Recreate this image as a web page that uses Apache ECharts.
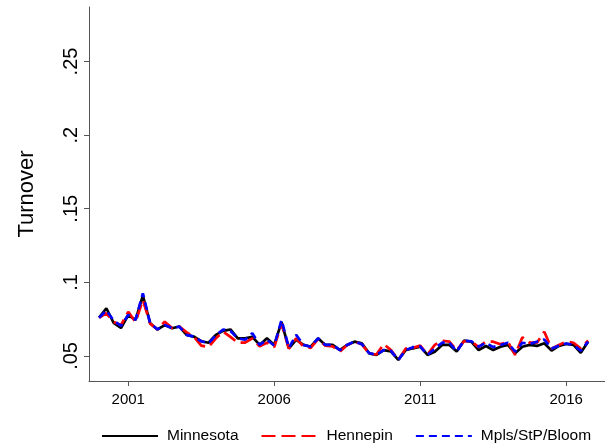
<!DOCTYPE html>
<html>
<head>
<meta charset="utf-8">
<script src="https://cdn.jsdelivr.net/npm/echarts@6/dist/echarts.min.js"></script>
<style>
html,body{margin:0;padding:0;background:#fff;}
#chart{width:605px;height:447px;}
</style>
</head>
<body>
<div id="chart"></div>
<script>
// Quarterly data, 2000q1 .. 2016q4
const startYear = 2000;
const nQuarters = 68;
const xTickYears = [2001, 2006, 2011, 2016];
const yTickValues = [0.05, 0.1, 0.15, 0.2, 0.25];
const seriesNames = ["Minnesota", "Hennepin", "Mpls/StP/Bloom"];

const minnesota = [
  0.076, 0.0824, 0.0724, 0.069, 0.0778, 0.0745, 0.091, 0.0722,
  0.068, 0.071, 0.0688, 0.070, 0.0643, 0.0631, 0.0600, 0.059,
  0.0643, 0.067, 0.068, 0.062, 0.062, 0.063, 0.0575, 0.062,
  0.0575, 0.073, 0.0552, 0.061, 0.0575, 0.0563, 0.062, 0.0575,
  0.0575, 0.054, 0.0575, 0.0597, 0.0586, 0.0518, 0.0507, 0.054,
  0.053, 0.0473, 0.054, 0.0552, 0.0563, 0.0507, 0.0529, 0.0575,
  0.0575, 0.053, 0.0604, 0.0597, 0.054, 0.0568, 0.054, 0.0563,
  0.0575, 0.0518, 0.0563, 0.0575, 0.0568, 0.0586, 0.0536, 0.0568,
  0.0582, 0.0575, 0.0522, 0.0597
];
const hennepin = [
  0.076, 0.079, 0.073, 0.071, 0.080, 0.073, 0.088, 0.072,
  0.068, 0.0733, 0.069, 0.070, 0.066, 0.063, 0.057, 0.056,
  0.062, 0.0665, 0.063, 0.059, 0.059, 0.062, 0.0565, 0.059,
  0.056, 0.072, 0.055, 0.062, 0.0565, 0.0555, 0.0615, 0.057,
  0.0565, 0.053, 0.0575, 0.0597, 0.058, 0.0515, 0.051, 0.058,
  0.054, 0.0473, 0.055, 0.0555, 0.057, 0.051, 0.0575, 0.0604,
  0.0597, 0.054, 0.060, 0.060, 0.056, 0.0597, 0.0597, 0.058,
  0.0597, 0.0507, 0.0627, 0.059, 0.059, 0.0665, 0.055, 0.0575,
  0.0597, 0.059, 0.055, 0.0605
];
const mplsStpBloom = [
  0.076, 0.081, 0.074, 0.0705, 0.078, 0.0745, 0.0926, 0.0722,
  0.068, 0.071, 0.069, 0.0699, 0.0643, 0.063, 0.060, 0.0586,
  0.064, 0.068, 0.067, 0.062, 0.061, 0.0655, 0.0575, 0.061,
  0.057, 0.0745, 0.0555, 0.0643, 0.0575, 0.0563, 0.062, 0.0575,
  0.0575, 0.054, 0.0575, 0.060, 0.058, 0.052, 0.0507, 0.054,
  0.0535, 0.0473, 0.054, 0.056, 0.0565, 0.0507, 0.055, 0.059,
  0.059, 0.053, 0.0604, 0.060, 0.0563, 0.059, 0.056, 0.0575,
  0.059, 0.053, 0.059, 0.0582, 0.0597, 0.0612, 0.055, 0.057,
  0.0585, 0.0575, 0.0535, 0.0597
];

const xPos = [];
for (let i = 0; i < nQuarters; i++) xPos.push(startYear + i / 4);
const pairs = arr => arr.map((v, i) => [xPos[i], v]);

const FONT = "Liberation Sans, Arial, sans-serif";
const chart = echarts.init(document.getElementById('chart'), null, {renderer: 'canvas'});
chart.setOption({
  animation: false,
  backgroundColor: '#ffffff',
  grid: {left: 89, right: 0, top: 7, bottom: 66, containLabel: false},
  xAxis: {
    type: 'value',
    min: 1999.655,
    max: 2017.33,
    axisLine: {show: true, lineStyle: {color: '#555', width: 1}},
    axisTick: {show: true, customValues: xTickYears, length: 5, lineStyle: {color: '#555'}},
    axisLabel: {customValues: xTickYears, margin: 11, color: '#000', fontSize: 15, fontFamily: FONT,
      formatter: v => String(Math.round(v))},
    splitLine: {show: false}
  },
  yAxis: {
    type: 'value',
    min: 0.033,
    max: 0.287,
    name: 'Turnover',
    nameLocation: 'middle',
    nameGap: 51,
    nameTextStyle: {fontSize: 22, color: '#000', fontFamily: FONT},
    axisLine: {show: true, lineStyle: {color: '#555', width: 1}},
    axisTick: {show: true, customValues: yTickValues, length: 5, lineStyle: {color: '#555'}},
    axisLabel: {customValues: yTickValues, rotate: 90, margin: 8, color: '#000', fontSize: 20, fontFamily: FONT,
      formatter: v => String(+v.toFixed(2)).replace(/^0/, '')},
    splitLine: {show: false}
  },
  legend: {
    top: 428,
    left: 101,
    itemWidth: 56,
    itemHeight: 14,
    itemGap: 22,
    padding: 0,
    itemStyle: {color: 'rgba(0,0,0,0)', borderColor: 'rgba(0,0,0,0)', borderWidth: 0},
    textStyle: {fontSize: 15.5, color: '#000', fontFamily: FONT, padding: [0, 0, 0, 4]},
    data: seriesNames
  },
  series: [
    {name: seriesNames[0], type: 'line', data: pairs(minnesota), symbol: 'none', showSymbol: false,
      lineStyle: {color: '#000000', width: 2.7, type: 'solid'}, itemStyle: {color: '#000000'}},
    {name: seriesNames[1], type: 'line', data: pairs(hennepin), symbol: 'none', showSymbol: false,
      lineStyle: {color: '#ff0000', width: 2.7, type: [14, 6]}, itemStyle: {color: '#ff0000'}},
    {name: seriesNames[2], type: 'line', data: pairs(mplsStpBloom), symbol: 'none', showSymbol: false,
      lineStyle: {color: '#0000ff', width: 2.7, type: [8, 5]}, itemStyle: {color: '#0000ff'}}
  ]
});
</script>
</body>
</html>
